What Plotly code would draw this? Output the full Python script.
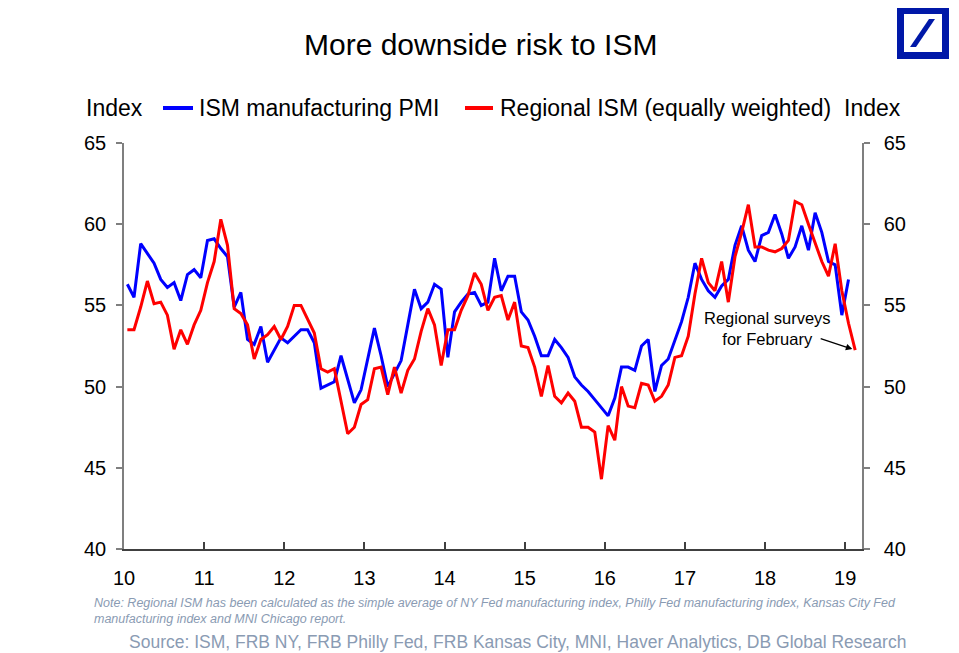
import plotly.graph_objects as go

# ---------------- data (monthly, Jan 2010 onwards) ----------------
ism_pmi = [
    56.3, 55.5, 58.8, 58.2, 57.6, 56.6, 56.1, 56.4, 55.3, 56.9, 57.2, 56.7,   # 2010
    59.0, 59.1, 58.5, 58.0, 54.9, 55.8, 52.9, 52.6, 53.7, 51.5, 52.3, 53.0,   # 2011
    52.7, 53.1, 53.5, 53.5, 52.7, 49.9, 50.1, 50.3, 51.9, 50.5, 49.0, 49.8,   # 2012
    51.6, 53.6, 51.9, 50.0, 50.8, 51.6, 53.8, 56.0, 54.8, 55.2, 56.3, 56.0,   # 2013
    51.8, 54.6, 55.2, 55.7, 55.8, 55.0, 55.2, 57.9, 55.9, 56.8, 56.8, 54.6,   # 2014
    54.1, 53.1, 51.9, 51.9, 52.9, 52.4, 51.8, 50.6, 50.1, 49.7, 49.2, 48.7,   # 2015
    48.2, 49.3, 51.2, 51.2, 51.0, 52.5, 52.9, 49.7, 51.3, 51.7, 52.8, 54.0,   # 2016
    55.5, 57.6, 56.6, 55.9, 55.5, 56.2, 56.6, 58.7, 59.9, 58.4, 57.7, 59.3,   # 2017
    59.5, 60.6, 59.4, 57.9, 58.6, 59.9, 58.4, 60.7, 59.5, 57.7, 57.5, 54.4,   # 2018
    56.6,                                                                     # 2019
]
regional_ism = [
    53.5, 53.5, 54.9, 56.5, 55.1, 55.2, 54.4, 52.3, 53.5, 52.6, 53.8, 54.7,   # 2010
    56.4, 57.7, 60.3, 58.7, 54.8, 54.5, 53.8, 51.7, 52.9, 53.2, 53.7, 52.9,   # 2011
    53.7, 55.0, 55.0, 54.1, 53.3, 51.1, 50.9, 51.1, 49.2, 47.1, 47.5, 48.9,   # 2012
    49.2, 51.1, 51.2, 49.5, 51.2, 49.6, 51.0, 51.7, 53.4, 54.8, 53.8, 51.3,   # 2013
    53.5, 53.5, 54.7, 55.6, 57.0, 56.3, 54.7, 55.5, 55.6, 54.1, 55.2, 52.5,   # 2014
    52.4, 51.2, 49.4, 51.3, 49.4, 49.0, 49.6, 49.1, 47.5, 47.5, 47.2, 44.3,   # 2015
    47.6, 46.7, 50.0, 48.8, 48.7, 50.2, 50.1, 49.1, 49.4, 50.1, 51.8, 51.9,   # 2016
    53.1, 55.7, 57.9, 56.4, 55.9, 57.7, 55.2, 58.0, 59.5, 61.2, 58.6, 58.6,   # 2017
    58.4, 58.3, 58.5, 59.0, 61.4, 61.2, 60.0, 58.8, 57.7, 56.8, 58.8, 55.9,   # 2018
    53.9, 52.25,                                                              # 2019 (Feb = regional surveys)
]
year_ticks = [10, 11, 12, 13, 14, 15, 16, 17, 18, 19]
year_labels = ["10", "11", "12", "13", "14", "15", "16", "17", "18", "19"]
y_ticks = [40, 45, 50, 55, 60, 65]

start_year = 10
x_ism = [start_year + (i + 0.5) / 12 for i in range(len(ism_pmi))]
x_reg = [start_year + (i + 0.5) / 12 for i in range(len(regional_ism))]

# ---------------- layout geometry (screen pixels of the target) ----------------
W, H = 959, 653
OFF = 8                       # default page margin of the html body
L, R, T, B = 124, 862, 143, 549
FONT = "Liberation Sans, Arial, sans-serif"
BLUE = "#0000FF"
RED = "#FF0000"


def px(x):
    return (x - L) / (R - L)


def py(y):
    return (B - y) / (B - T)


fig = go.Figure()
fig.add_trace(go.Scatter(x=x_ism, y=ism_pmi, mode="lines", name="ISM manufacturing PMI",
                         line=dict(color=BLUE, width=3), showlegend=False))
fig.add_trace(go.Scatter(x=x_reg, y=regional_ism, mode="lines", name="Regional ISM (equally weighted)",
                         line=dict(color=RED, width=3), showlegend=False, yaxis="y2"))

fig.update_layout(
    width=W - OFF, height=H - OFF,
    margin=dict(l=L - OFF, r=W - R, t=T - OFF, b=H - B, pad=0),
    paper_bgcolor="white", plot_bgcolor="white",
    font=dict(family=FONT, color="#000000"),
    xaxis=dict(range=[10, 19.21], tickvals=year_ticks, ticktext=year_labels,
               showgrid=False, zeroline=False, showline=True, linecolor="#404040", linewidth=1.5,
               ticks="inside", ticklen=7, tickcolor="#404040", tickwidth=1.5,
               tickfont=dict(size=20, family=FONT), ticklabelstandoff=10),
    yaxis=dict(range=[40, 65], tickvals=y_ticks, showgrid=False, zeroline=False,
               showline=True, linecolor="#7f7f7f", linewidth=1.5,
               ticks="outside", ticklen=6, tickcolor="#7f7f7f", tickwidth=1.5,
               tickfont=dict(size=20, family=FONT), ticklabelstandoff=6),
    yaxis2=dict(range=[40, 65], tickvals=y_ticks, overlaying="y", side="right",
                showgrid=False, zeroline=False, showline=True, linecolor="#7f7f7f", linewidth=1.5,
                ticks="outside", ticklen=6, tickcolor="#7f7f7f", tickwidth=1.5,
                tickfont=dict(size=20, family=FONT), ticklabelstandoff=10),
)

annotations = []
# title
annotations.append(dict(text="More downside risk to ISM", x=px(480), y=py(45), xref="paper", yref="paper",
                        xanchor="center", yanchor="middle", showarrow=False,
                        font=dict(size=30, family=FONT, color="#000000")))
# legend row
for txt, xl in [("Index", 84), ("ISM manufacturing PMI", 197), ("Regional ISM (equally weighted)", 498), ("Index", 842)]:
    annotations.append(dict(text=txt, x=px(xl), y=py(108), xref="paper", yref="paper",
                            xanchor="left", yanchor="middle", showarrow=False,
                            font=dict(size=23, family=FONT, color="#000000")))
# callout text
annotations.append(dict(text="Regional surveys<br>for February", x=px(767), y=py(328), xref="paper", yref="paper",
                        xanchor="center", yanchor="middle", showarrow=False, align="center",
                        font=dict(size=16.5, family=FONT, color="#000000")))
# arrow pointing to last regional point
annotations.append(dict(text="", x=x_reg[-1], y=regional_ism[-1], xref="x", yref="y2",
                        showarrow=True, arrowhead=2, arrowsize=1, arrowwidth=1.3, arrowcolor="#000000",
                        ax=-36, ay=-12, standoff=3))
# note and source
annotations.append(dict(text="Note: Regional ISM has been calculated as the simple average of NY Fed manufacturing index, "
                             "Philly Fed manufacturing index, Kansas City Fed<br>manufacturing index and MNI Chicago report.",
                        x=px(92), y=py(611), xref="paper", yref="paper", xanchor="left", yanchor="middle",
                        showarrow=False, align="left",
                        font=dict(size=12.5, family=FONT, color="#8A9BB3", style="italic")))
annotations.append(dict(text="Source: ISM, FRB NY, FRB Philly Fed, FRB Kansas City, MNI, Haver Analytics, DB Global Research",
                        x=px(127), y=py(642), xref="paper", yref="paper", xanchor="left", yanchor="middle",
                        showarrow=False, font=dict(size=17.5, family=FONT, color="#8A9BB3")))
fig.update_layout(annotations=annotations)

shapes = []
# legend line samples
shapes.append(dict(type="line", xref="paper", yref="paper", x0=px(163), x1=px(193), y0=py(108), y1=py(108),
                   line=dict(color=BLUE, width=4)))
shapes.append(dict(type="line", xref="paper", yref="paper", x0=px(465), x1=px(493), y0=py(108), y1=py(108),
                   line=dict(color=RED, width=4)))
# Deutsche Bank logo
shapes.append(dict(type="rect", xref="paper", yref="paper", x0=px(897), x1=px(949), y0=py(59), y1=py(7),
                   fillcolor="#0018A8", line=dict(width=0)))
shapes.append(dict(type="rect", xref="paper", yref="paper", x0=px(904), x1=px(942), y0=py(52), y1=py(14),
                   fillcolor="white", line=dict(width=0)))
shapes.append(dict(type="path", xref="paper", yref="paper",
                   path="M {} {} L {} {} L {} {} L {} {} Z".format(px(910), py(47), px(916), py(47),
                                                                   px(935), py(19), px(929), py(19)),
                   fillcolor="#0018A8", line=dict(width=0)))
fig.update_layout(shapes=shapes)

fig.write_html("out.html")
